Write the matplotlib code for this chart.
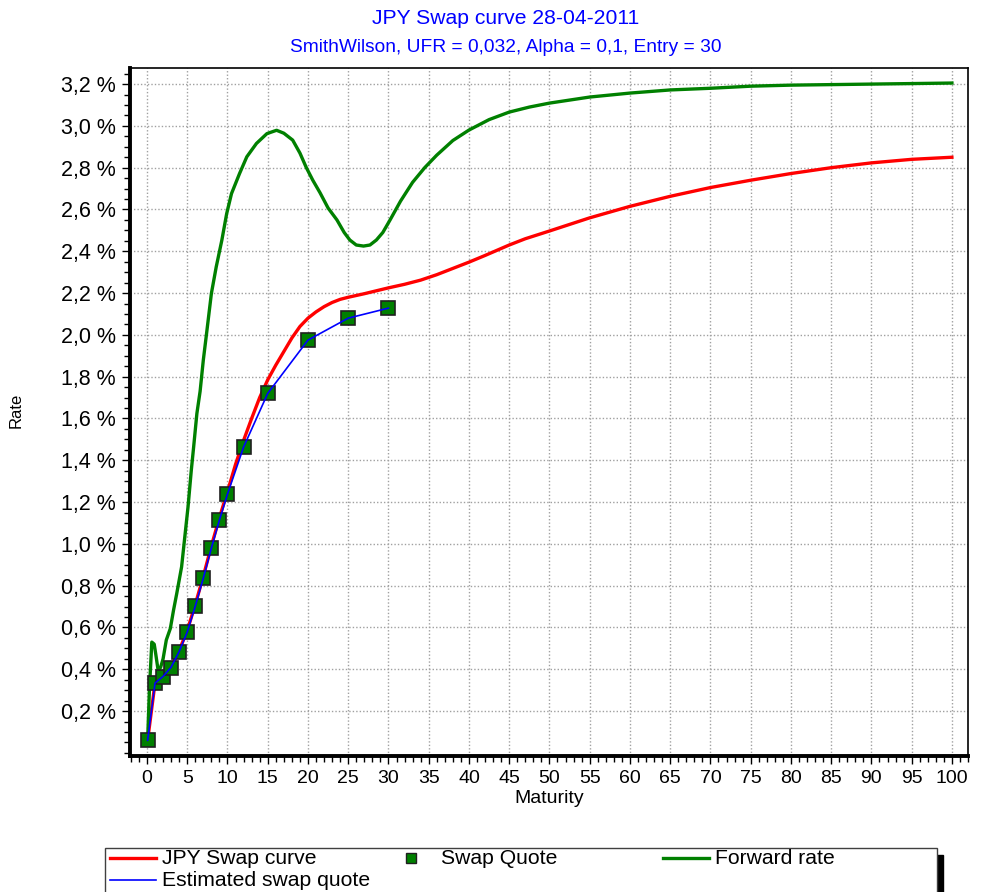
import matplotlib
matplotlib.use("Agg")
import matplotlib.pyplot as plt
from matplotlib.patches import Rectangle
from matplotlib.lines import Line2D
from matplotlib.ticker import MultipleLocator, FuncFormatter

plt.rcParams["font.family"] = ["Liberation Sans", "DejaVu Sans"]

# ---- data ----
quote_t = [0.08, 1, 2, 3, 4, 5, 6, 7, 8, 9, 10, 12, 15, 20, 25, 30]
quote_r = [0.06, 0.334, 0.363, 0.406, 0.482, 0.578, 0.702, 0.836, 0.98,
           1.114, 1.238, 1.463, 1.72, 1.975, 2.08, 2.128]

est_t = quote_t
est_r = [0.06, 0.334, 0.366, 0.41, 0.485, 0.578, 0.702, 0.836, 0.98,
         1.114, 1.238, 1.463, 1.72, 1.975, 2.08, 2.128]

curve_t = [0.08, 1, 2, 3, 4, 5, 6, 7, 8, 9, 10, 11, 12, 13, 14, 15, 16, 17,
           18, 19, 20, 21, 22, 23, 24, 25, 27, 30, 32, 34, 36, 38, 40, 42,
           45, 47, 50, 55, 60, 65, 70, 75, 80, 85, 90, 95, 100]
curve_r = [0.06, 0.335, 0.365, 0.41, 0.49, 0.585, 0.71, 0.845, 0.99, 1.125,
           1.25, 1.38, 1.495, 1.6, 1.7, 1.785, 1.855, 1.92, 1.985, 2.04,
           2.08, 2.11, 2.135, 2.155, 2.17, 2.18, 2.197, 2.225, 2.242, 2.262,
           2.288, 2.318, 2.348, 2.38, 2.43, 2.46, 2.497, 2.56, 2.615, 2.663,
           2.705, 2.74, 2.772, 2.8, 2.823, 2.84, 2.85]

fwd_t = [0.08, 0.3, 0.6, 0.9, 1.1, 1.4, 1.7, 2.0, 2.4, 2.9, 3.3, 3.7, 4.3,
         4.7, 5.1, 5.5, 5.8, 6.2, 6.6, 7.0, 7.4, 8.0, 8.6, 9.3, 9.9, 10.5,
         11.5, 12.4, 13.6, 14.9, 16.1, 17.0, 18.1, 19.0, 19.8, 20.6, 21.5,
         22.5, 23.6, 24.5, 25.2, 26.0, 26.9, 27.7, 28.5, 29.3, 30.2, 31.5,
         33, 34.5, 36, 38, 40, 42.5, 45, 47.5, 50, 55, 60, 65, 70, 75, 80,
         90, 100]
fwd_r = [0.06, 0.3, 0.53, 0.52, 0.47, 0.39, 0.41, 0.45, 0.54, 0.595, 0.683,
         0.763, 0.89, 1.034, 1.177, 1.35, 1.465, 1.624, 1.73, 1.88, 2.006,
         2.198, 2.325, 2.453, 2.58, 2.676, 2.772, 2.852, 2.916, 2.963, 2.979,
         2.965, 2.932, 2.87, 2.80, 2.74, 2.68, 2.607, 2.55, 2.49, 2.454,
         2.43, 2.425, 2.43, 2.454, 2.49, 2.55, 2.64, 2.73, 2.80, 2.86, 2.93,
         2.98, 3.03, 3.066, 3.09, 3.109, 3.138, 3.157, 3.172, 3.18, 3.19,
         3.195, 3.2, 3.205]

title = "JPY Swap curve 28-04-2011"
subtitle = "SmithWilson, UFR = 0,032, Alpha = 0,1, Entry = 30"

W, H = 983, 892
fig = plt.figure(figsize=(W / 100, H / 100), dpi=100)
ax = fig.add_axes([130 / W, 1 - 756 / H, 838 / W, 688 / H])

ax.plot(curve_t, curve_r, color="#ff0000", lw=2.4, zorder=3)
ax.plot(fwd_t, fwd_r, color="#008000", lw=2.4, zorder=3)
ax.plot(quote_t, quote_r, ls="none", marker="s", ms=9.5,
        mfc="#008000", mec="#202020", mew=1.2, zorder=4)
ax.plot(est_t, est_r, color="#0000ff", lw=1.2, zorder=5)

ax.set_xlim(-2.11, 102.0)
ax.set_ylim(-0.015, 3.277)
ax.xaxis.set_major_locator(MultipleLocator(5))
ax.xaxis.set_minor_locator(MultipleLocator(1))
ax.set_yticks([0.2 * i for i in range(1, 17)])
ax.yaxis.set_minor_locator(MultipleLocator(0.05))
ax.yaxis.set_major_formatter(
    FuncFormatter(lambda v, p: f"{v:.1f}".replace(".", ",") + " %"))

ax.grid(True, which="major", color="#a0a0a0", ls=(0, (1, 1.5)), lw=1)
ax.tick_params(which="major", length=6, width=1, pad=4)
ax.tick_params(axis="x", labelsize=14)
ax.tick_params(axis="y", labelsize=15.5)
ax.tick_params(which="minor", length=4, width=1)
for side in ["left", "bottom"]:
    ax.spines[side].set_linewidth(2.8)
for side in ["top", "right"]:
    ax.spines[side].set_linewidth(1.2)

ax.set_xlabel("Maturity", fontsize=14, labelpad=2)
fig.text(16 / W, 1 - 410 / H, "Rate", rotation=90, fontsize=12,
         ha="center", va="center")

fig.text(506 / W, 1 - 18 / H, title, color="#0000ff", fontsize=15.2,
         ha="center", va="center")
fig.text(506 / W, 1 - 48 / H, subtitle, color="#0000ff", fontsize=13.8,
         ha="center", va="center")

# ---- legend box drawn in pixel coordinates ----
lax = fig.add_axes([0, 0, 1, 1])
lax.set_xlim(0, W)
lax.set_ylim(H, 0)
lax.axis("off")
lax.add_patch(Rectangle((937, 855), 6, 40, color="black"))
lax.add_patch(Rectangle((105, 848), 832, 50, facecolor="white",
                        edgecolor="#404040", lw=1))
entries = [
    (110, 858, "line", "#ff0000", 2.4, "JPY Swap curve"),
    (389, 858, "marker", "#008000", 0, "Swap Quote"),
    (663, 858, "line", "#008000", 2.4, "Forward rate"),
    (110, 880, "line", "#0000ff", 1.2, "Estimated swap quote"),
]
for x0, y0, kind, col, lw, label in entries:
    if kind == "line":
        lax.add_line(Line2D([x0, x0 + 46], [y0, y0], color=col, lw=lw))
    else:
        lax.add_line(Line2D([x0 + 22], [y0], ls="none", marker="s", ms=7,
                            mfc=col, mec="#202020", mew=1))
    lax.text(x0 + 52, y0, label, fontsize=15.2, va="center", ha="left")

fig.savefig("out.png", dpi=100)
